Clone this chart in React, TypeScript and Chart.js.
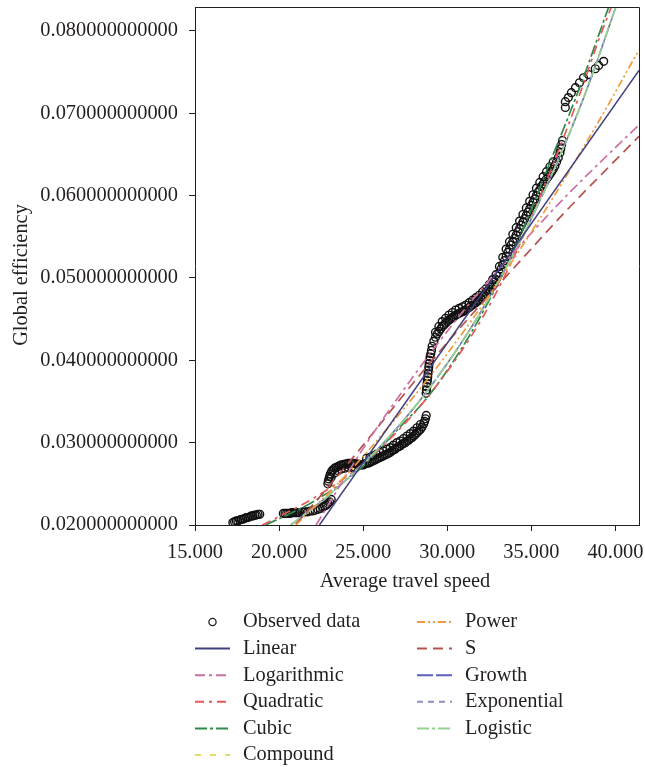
import React, { useEffect, useRef } from "react";
import { Chart, registerables } from "chart.js";

Chart.register(...registerables);

const xTicks = [15, 20, 25, 30, 35, 40];
const yTicks = [0.02, 0.03, 0.04, 0.05, 0.06, 0.07, 0.08];

// Observed data (average travel speed, global efficiency), read along the point bands
const obsX = [
  // low cluster
  17.25, 17.35, 17.45, 17.55, 17.65, 17.75, 17.85, 17.95, 18.05, 18.15, 18.25, 18.35, 18.45, 18.55, 18.65, 18.75, 18.85,
  // second cluster
  20.25, 20.35, 20.45, 20.55, 20.65, 20.75, 20.85, 20.95, 21.05, 21.15, 21.25, 21.4, 21.55, 21.7, 21.85, 22.0, 22.15, 22.3, 22.45, 22.6, 22.7, 22.8, 22.9, 23.0, 23.1,
  // third cluster
  22.9, 22.93, 22.96, 23.0, 23.05, 23.12, 23.2, 23.3, 23.4, 23.5, 23.6, 23.7, 23.8, 23.9, 24.0, 24.1, 24.2, 24.3, 24.4, 24.5, 24.6, 24.7, 24.8, 24.9,
  23.1, 23.3, 23.5, 23.7, 23.9, 24.1, 24.3, 24.5,
  // lower curve
  25.0, 25.1, 25.2, 25.3, 25.4, 25.5, 25.6, 25.7, 25.8, 25.9, 26.0, 26.1, 26.2, 26.3, 26.4, 26.5, 26.6, 26.7, 26.8, 26.9,
  27.0, 27.1, 27.2, 27.3, 27.4, 27.5, 27.6, 27.7, 27.8, 27.9, 28.0, 28.1, 28.2, 28.3, 28.4, 28.5, 28.6, 28.65, 28.7, 28.75,
  25.2, 25.4, 25.6, 25.8, 26.0, 26.2, 26.4, 26.6, 26.8, 27.0, 27.2, 27.4, 27.6, 27.8, 28.0, 28.2, 28.4,
  // vertical column
  28.74, 28.76, 28.78, 28.8, 28.82, 28.84, 28.86, 28.88, 28.9, 28.92, 28.95, 28.98, 29.02, 29.06,
  // main upper band
  29.1, 29.2, 29.3, 29.4, 29.5, 29.6, 29.7, 29.8, 29.9, 30.0, 30.1, 30.2, 30.3, 30.4, 30.5, 30.6, 30.7, 30.8, 30.9,
  31.0, 31.1, 31.2, 31.3, 31.4, 31.5, 31.6, 31.7, 31.8, 31.9, 32.0, 32.1, 32.2, 32.3, 32.4, 32.5, 32.6, 32.7, 32.8, 32.9,
  33.0, 33.1, 33.2, 33.3, 33.4, 33.5, 33.6, 33.7, 33.8, 33.9, 34.0, 34.1, 34.2, 34.3, 34.4, 34.5, 34.6, 34.7, 34.8, 34.9,
  35.0, 35.1, 35.2, 35.3, 35.4, 35.5, 35.6, 35.7, 35.8, 35.9, 36.0, 36.1, 36.2, 36.3, 36.4, 36.5, 36.6, 36.7, 36.75, 36.8, 36.85,
  29.3, 29.5, 29.7, 29.9, 30.1, 30.3, 30.5, 30.7, 30.9, 31.1, 31.3, 31.5, 31.7, 31.9, 32.1, 32.3, 32.5, 32.7, 32.9,
  33.1, 33.3, 33.5, 33.7, 33.9, 34.1, 34.3, 34.5, 34.7, 34.9, 35.1, 35.3, 35.5, 35.7, 35.9, 36.1, 36.3,
  // top cluster
  37.02, 37.02, 37.2, 37.38, 37.62, 37.86, 38.1, 38.4, 38.8, 39.0, 39.3,
];
const obsY = [
  0.0203, 0.0204, 0.0205, 0.0205, 0.0206, 0.0207, 0.0207, 0.0208, 0.0209, 0.0209, 0.021, 0.0211, 0.0211, 0.0212, 0.0212, 0.0213, 0.0213,
  0.0214, 0.0214, 0.0214, 0.0214, 0.0214, 0.0215, 0.0215, 0.0215, 0.0215, 0.0215, 0.0215, 0.0216, 0.0216, 0.0216, 0.0217, 0.0217, 0.0218, 0.0219, 0.022, 0.0222, 0.0223, 0.0224, 0.0226, 0.0228, 0.0231,
  0.025, 0.0253, 0.0256, 0.0259, 0.0262, 0.0265, 0.0267, 0.0269, 0.027, 0.0271, 0.0272, 0.0273, 0.0273, 0.0274, 0.0274, 0.0275, 0.0275, 0.0275, 0.0275, 0.0275, 0.0274, 0.0274, 0.0273, 0.0273,
  0.0258, 0.0263, 0.0266, 0.0268, 0.0269, 0.027, 0.027, 0.027,
  0.0273, 0.0274, 0.0275, 0.0275, 0.0276, 0.0277, 0.0278, 0.0279, 0.028, 0.0281, 0.0282, 0.0283, 0.0284, 0.0285, 0.0286, 0.0287, 0.0288, 0.029, 0.0291, 0.0292,
  0.0294, 0.0295, 0.0296, 0.0298, 0.0299, 0.03, 0.0302, 0.0303, 0.0305, 0.0306, 0.0308, 0.031, 0.0312, 0.0314, 0.0316, 0.0319, 0.0323, 0.0326, 0.0329, 0.0333,
  0.0281, 0.0282, 0.0284, 0.0286, 0.0288, 0.029, 0.0292, 0.0294, 0.0297, 0.03, 0.0302, 0.0305, 0.0308, 0.0311, 0.0314, 0.0318, 0.0322,
  0.036, 0.0364, 0.0368, 0.0372, 0.0376, 0.038, 0.0384, 0.0388, 0.0392, 0.0396, 0.04, 0.0404, 0.0408, 0.0412,
  0.0417, 0.0423, 0.0428, 0.0432, 0.0435, 0.0438, 0.0441, 0.0443, 0.0445, 0.0447, 0.0449, 0.045, 0.0452, 0.0453, 0.0455, 0.0456, 0.0457, 0.0458, 0.0459,
  0.046, 0.0461, 0.0463, 0.0464, 0.0466, 0.0467, 0.0469, 0.047, 0.0472, 0.0473, 0.0475, 0.0477, 0.0479, 0.0481, 0.0484, 0.0486, 0.0489, 0.0492, 0.0495, 0.0498,
  0.0502, 0.0506, 0.0511, 0.0516, 0.0521, 0.0526, 0.0531, 0.0535, 0.054, 0.0544, 0.0548, 0.0552, 0.0556, 0.056, 0.0564, 0.0568, 0.0572, 0.0576, 0.058, 0.0584,
  0.0588, 0.0592, 0.0596, 0.06, 0.0604, 0.0607, 0.0611, 0.0614, 0.0617, 0.062, 0.0623, 0.0626, 0.0629, 0.0632, 0.0636, 0.0641, 0.0646, 0.0652, 0.0657, 0.0662, 0.0667,
  0.0434, 0.0441, 0.0447, 0.0451, 0.0455, 0.0458, 0.0461, 0.0463, 0.0465, 0.0467, 0.047, 0.0473, 0.0476, 0.0479, 0.0483, 0.0487, 0.0492, 0.0498, 0.0504,
  0.0514, 0.0525, 0.0535, 0.0544, 0.0553, 0.0561, 0.0569, 0.0577, 0.0585, 0.0593, 0.0601, 0.0609, 0.0616, 0.0623, 0.0629, 0.0635, 0.0641,
  0.0707, 0.0714, 0.0719, 0.0725, 0.0731, 0.0737, 0.0743, 0.0747, 0.0754, 0.0758, 0.0763,
];

// Fitted curves
const linearX = [22.4, 41.4];
const linearY = [0.02, 0.0752];
const logX = [22.2, 25, 28, 31, 34, 37, 41.4];
const logY = [0.02, 0.0293, 0.0381, 0.0461, 0.0532, 0.0598, 0.0686];
const quadX = [19.0, 22, 24.8, 27, 28.7, 30.5, 32.1, 34, 36.1, 38, 39, 39.75, 40.3];
const quadY = [0.02, 0.0232, 0.0271, 0.0313, 0.0352, 0.0401, 0.0452, 0.0527, 0.0628, 0.073, 0.0789, 0.0829, 0.0862];
const cubicX = [19.2, 22, 24.8, 27, 28.7, 30.5, 32.1, 34, 36.1, 38, 38.9, 39.6, 40.2];
const cubicY = [0.02, 0.0228, 0.0268, 0.0315, 0.0352, 0.0403, 0.0458, 0.0535, 0.064, 0.0738, 0.0789, 0.0829, 0.0862];
const compoundX = [20.7, 23, 26, 29, 32, 35, 38, 40.5];
const compoundY = [0.02, 0.0237, 0.0295, 0.0368, 0.0459, 0.0572, 0.0713, 0.0857];
const growthX = [20.7, 23, 26, 29, 32, 35, 38, 40.5];
const growthY = [0.02, 0.0237, 0.0295, 0.0368, 0.0459, 0.0572, 0.0713, 0.0857];
const exponentialX = [20.7, 23, 26, 29, 32, 35, 38, 40.5];
const exponentialY = [0.02, 0.0237, 0.0295, 0.0368, 0.0459, 0.0572, 0.0713, 0.0857];
const logisticX = [20.7, 23, 26, 29, 32, 35, 38, 40.5];
const logisticY = [0.02, 0.0237, 0.0295, 0.0368, 0.0459, 0.0572, 0.0713, 0.0857];
const powerX = [21, 24, 27, 30, 33, 36, 39, 41.4];
const powerY = [0.02, 0.0261, 0.0331, 0.0408, 0.0494, 0.0588, 0.069, 0.0777];
const sX = [21, 23, 25, 28, 31, 34, 37, 41.4];
const sY = [0.0201, 0.0248, 0.0297, 0.0373, 0.0445, 0.0513, 0.058, 0.0672];

const FONT = "'Liberation Serif', 'Times New Roman', serif";
const TEXT = "#231f20";

type Style = { color: string; dash: number[]; width: number };
const styles: Record<string, Style> = {
  Linear: { color: "#41417f", dash: [], width: 1.5 },
  Logarithmic: { color: "#cc6fa3", dash: [10, 4, 3, 4], width: 1.7 },
  Quadratic: { color: "#e85858", dash: [9, 5, 3, 5], width: 1.7 },
  Cubic: { color: "#2f8a4c", dash: [12, 3, 3, 3], width: 1.7 },
  Compound: { color: "#e3de6a", dash: [6, 9], width: 1.6 },
  Power: { color: "#f09a3a", dash: [8, 3, 2, 3, 2, 3], width: 1.7 },
  S: { color: "#b5514f", dash: [10, 6], width: 1.7 },
  Growth: { color: "#5b5fbe", dash: [16, 3], width: 1.5 },
  Exponential: { color: "#8b8fba", dash: [6, 5], width: 1.5 },
  Logistic: { color: "#95d18f", dash: [12, 3, 3, 3], width: 1.7 },
};

const leftLegend = ["Observed data", "Linear", "Logarithmic", "Quadratic", "Cubic", "Compound"];
const rightLegend = ["Power", "S", "Growth", "Exponential", "Logistic"];

const pts = (xs: number[], ys: number[]) => xs.map((x, i) => ({ x, y: ys[i] }));

const fitDataset = (name: string, xs: number[], ys: number[], order: number) => ({
  label: name,
  data: pts(xs, ys),
  borderColor: styles[name].color,
  borderDash: styles[name].dash,
  borderWidth: styles[name].width,
  pointRadius: 0,
  fill: false,
  showLine: true,
  cubicInterpolationMode: "monotone" as const,
  order,
});

const decorPlugin = {
  id: "decor",
  afterDraw(chart: any) {
    const ctx: CanvasRenderingContext2D = chart.ctx;
    const { left, top, right, bottom } = chart.chartArea;
    ctx.save();
    ctx.strokeStyle = TEXT;
    ctx.lineWidth = 1;
    ctx.setLineDash([]);
    ctx.beginPath();
    ctx.moveTo(Math.round(left) + 0.5, Math.round(top) + 0.5);
    ctx.lineTo(Math.round(right) + 0.5, Math.round(top) + 0.5);
    ctx.lineTo(Math.round(right) + 0.5, Math.round(bottom) + 0.5);
    ctx.stroke();

    ctx.fillStyle = TEXT;
    ctx.font = `20.4px ${FONT}`;
    ctx.textAlign = "center";
    ctx.textBaseline = "middle";
    ctx.fillText("Average travel speed", 405, 582);
    ctx.save();
    ctx.translate(22, 275);
    ctx.rotate(-Math.PI / 2);
    ctx.fillText("Global efficiency", 0, 0);
    ctx.restore();

    const rowY = (i: number) => 622 + i * 26.6;
    const drawItem = (name: string, sx0: number, sx1: number, tx: number, y: number) => {
      if (name === "Observed data") {
        ctx.setLineDash([]);
        ctx.strokeStyle = TEXT;
        ctx.lineWidth = 1.3;
        ctx.beginPath();
        ctx.arc((sx0 + sx1) / 2, y, 3.6, 0, Math.PI * 2);
        ctx.stroke();
      } else {
        const st = styles[name];
        ctx.setLineDash(st.dash);
        ctx.strokeStyle = st.color;
        ctx.lineWidth = 2;
        ctx.beginPath();
        ctx.moveTo(sx0, y);
        ctx.lineTo(sx1, y);
        ctx.stroke();
      }
      ctx.fillStyle = TEXT;
      ctx.textAlign = "left";
      ctx.textBaseline = "middle";
      ctx.font = `20.4px ${FONT}`;
      ctx.fillText(name, tx, y);
    };
    leftLegend.forEach((n, i) => drawItem(n, 195, 230, 243, rowY(i)));
    rightLegend.forEach((n, i) => drawItem(n, 417, 452, 465, rowY(i)));
    ctx.restore();
  },
};

export default function App() {
  const ref = useRef<HTMLCanvasElement | null>(null);
  useEffect(() => {
    if (!ref.current) return;
    const chart = new Chart(ref.current, {
      type: "line",
      data: {
        datasets: [
          fitDataset("Linear", linearX, linearY, 1),
          fitDataset("Power", powerX, powerY, 2),
          fitDataset("Logarithmic", logX, logY, 3),
          fitDataset("S", sX, sY, 4),
          fitDataset("Logistic", logisticX, logisticY, 5),
          fitDataset("Exponential", exponentialX, exponentialY, 6),
          fitDataset("Growth", growthX, growthY, 7),
          fitDataset("Compound", compoundX, compoundY, 8),
          fitDataset("Quadratic", quadX, quadY, 9),
          fitDataset("Cubic", cubicX, cubicY, 10),
          {
            label: "Observed data",
            data: pts(obsX, obsY),
            showLine: false,
            pointRadius: 3.9,
            pointBorderWidth: 1.4,
            pointBorderColor: "#111111",
            pointBackgroundColor: "rgba(255,255,255,0)",
            borderColor: "#111111",
            backgroundColor: "rgba(0,0,0,0)",
            order: 100,
          } as any,
        ],
      },
      options: {
        animation: false,
        responsive: false,
        devicePixelRatio: 1,
        events: [],
        layout: { padding: { top: 7, right: 6, left: 0, bottom: 172 } },
        plugins: { legend: { display: false }, tooltip: { enabled: false } },
        scales: {
          x: {
            type: "linear",
            min: 15,
            max: 41.4,
            afterBuildTicks: (s: any) => {
              s.ticks = xTicks.map((v) => ({ value: v }));
            },
            afterFit: (s: any) => {
              s.height = 70;
              s.paddingLeft = 0;
              s.paddingRight = 0;
            },
            border: { display: true, color: TEXT, width: 1 },
            grid: { drawOnChartArea: false, drawTicks: true, tickLength: 6, color: TEXT, tickColor: TEXT },
            ticks: {
              color: TEXT,
              font: { family: FONT, size: 20.4 },
              padding: 9,
              maxRotation: 0,
              autoSkip: false,
              callback: (v: any) => Number(v).toFixed(3),
            },
          },
          y: {
            type: "linear",
            min: 0.02,
            max: 0.0829,
            afterBuildTicks: (s: any) => {
              s.ticks = yTicks.map((v) => ({ value: v }));
            },
            afterFit: (s: any) => {
              s.width = 195;
              s.paddingTop = 0;
              s.paddingBottom = 0;
            },
            border: { display: true, color: TEXT, width: 1 },
            grid: { drawOnChartArea: false, drawTicks: true, tickLength: 6, color: TEXT, tickColor: TEXT },
            ticks: {
              color: TEXT,
              font: { family: FONT, size: 20.4 },
              padding: 11,
              autoSkip: false,
              callback: (v: any) => Number(v).toFixed(12),
            },
          },
        },
      },
      plugins: [decorPlugin],
    });
    return () => chart.destroy();
  }, []);
  return (
    <div style={{ position: "fixed", left: 0, top: 0, width: 645, height: 767, background: "#fff" }}>
      <canvas ref={ref} width={645} height={767} style={{ display: "block" }} />
    </div>
  );
}
